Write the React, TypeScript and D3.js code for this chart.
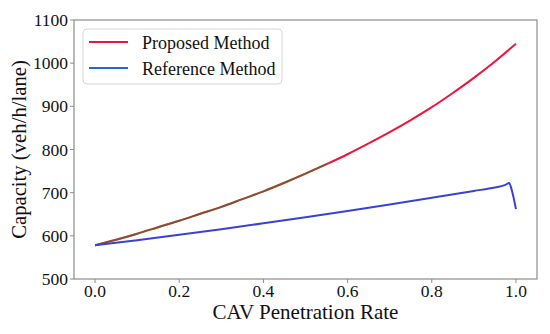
import React from "react";
import * as d3 from "d3";

const penetration = [0, 0.05, 0.1, 0.15, 0.2, 0.25, 0.3, 0.35, 0.4, 0.45, 0.5, 0.55, 0.6, 0.65, 0.7, 0.75, 0.8, 0.85, 0.9, 0.95, 1.0];
const proposed = [578, 591, 605, 620, 635, 651, 667, 685, 703, 723, 744, 766, 789, 814, 840, 868, 898, 931, 966, 1004, 1045];

const refPenetration = [0, 0.1, 0.2, 0.3, 0.4, 0.5, 0.6, 0.7, 0.8, 0.9, 0.95, 0.975, 0.984, 0.99, 1.0];
const reference = [578, 590, 602.5, 615.5, 629, 643, 657.5, 672.5, 688, 704, 712, 718, 722.5, 706, 662];

const xTicks = [0, 0.2, 0.4, 0.6, 0.8, 1.0];
const yTicks = [500, 600, 700, 800, 900, 1000, 1100];

const seriesNames = ["Proposed Method", "Reference Method"];

const W = 550, H = 334;
const L = 74, R = 537, T = 20, B = 279;
const font = "'Liberation Serif', 'Times New Roman', serif";

export default function App() {
  const x = d3.scaleLinear().domain([-0.05, 1.05]).range([L, R]);
  const y = d3.scaleLinear().domain([500, 1100]).range([B, T]);

  const propPts: [number, number][] = penetration.map((p, i) => [p, proposed[i]]);
  const refPts: [number, number][] = refPenetration.map((p, i) => [p, reference[i]]);
  const overlapPts = propPts.filter((d) => d[0] <= 0.55);

  const lineCurve = d3.line<[number, number]>().x((d) => x(d[0])).y((d) => y(d[1])).curve(d3.curveMonotoneX);

  const spine = "#8c8c8c";

  return (
    <svg width={W} height={H} style={{ position: "absolute", left: 0, top: 0, background: "#fff", fontFamily: font }}>
      <rect x={0} y={0} width={W} height={H} fill="#fff" />
      {/* lines */}
      <path d={lineCurve(propPts) || ""} fill="none" stroke="#f0143c" strokeWidth={2} />
      <path d={lineCurve(overlapPts) || ""} fill="none" stroke="#1f8a20" strokeOpacity={0.5} strokeWidth={2} />
      <path d={lineCurve(refPts) || ""} fill="none" stroke="#3843d3" strokeWidth={2} strokeLinejoin="round" />

      {/* spines */}
      <rect x={L} y={T} width={R - L} height={B - T} fill="none" stroke={spine} strokeWidth={1.2} />

      {/* x ticks */}
      {xTicks.map((t) => (
        <g key={"x" + t}>
          <line x1={x(t)} x2={x(t)} y1={B} y2={B + 4} stroke={spine} strokeWidth={1} />
          <text x={x(t)} y={297} fontSize={17.5} textAnchor="middle" fill="#111">{t.toFixed(1)}</text>
        </g>
      ))}
      {/* y ticks */}
      {yTicks.map((t) => (
        <g key={"y" + t}>
          <line x1={L - 4} x2={L} y1={y(t)} y2={y(t)} stroke={spine} strokeWidth={1} />
          <text x={L - 6} y={y(t) + 6} fontSize={17.5} textAnchor="end" fill="#111">{t}</text>
        </g>
      ))}

      {/* axis labels */}
      <text x={(L + R) / 2} y={319} fontSize={21} textAnchor="middle" fill="#111">CAV Penetration Rate</text>
      <text transform={`translate(26, ${(T + B) / 2}) rotate(-90)`} fontSize={20.7} textAnchor="middle" fill="#111">Capacity (veh/h/lane)</text>

      {/* legend */}
      <rect x={83} y={29} width={199} height={55} rx={4} fill="#fff" fillOpacity={0.85} stroke="#d6d6d6" strokeWidth={1} />
      <line x1={89} x2={128} y1={42} y2={42} stroke="#f0143c" strokeWidth={2} />
      <line x1={89} x2={128} y1={68} y2={68} stroke="#1e6ec4" strokeWidth={2} />
      <text x={142} y={49} fontSize={18} fill="#111">{seriesNames[0]}</text>
      <text x={142} y={75} fontSize={18} fill="#111">{seriesNames[1]}</text>
    </svg>
  );
}
